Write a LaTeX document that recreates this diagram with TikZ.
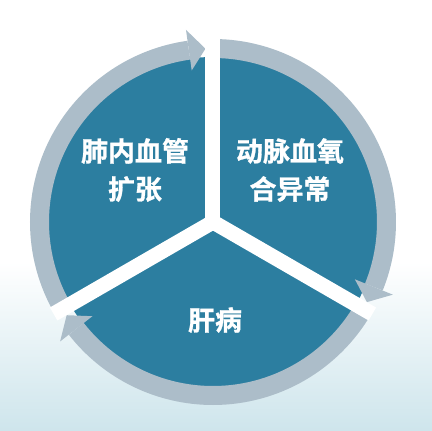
\documentclass[tikz,border=0pt]{standalone}
\usepackage{fontspec}
\setmainfont{Noto Sans CJK SC}[BoldFont={Noto Sans CJK SC Bold},BoldFeatures={FakeBold=1}]
\definecolor{discblue}{RGB}{44,126,160}
\definecolor{ringgray}{RGB}{172,189,201}
\definecolor{bgblue}{RGB}{206,229,236}

\begin{document}
\begin{tikzpicture}[x=1pt,y=1pt]

	\tikzset{sectortext/.style={text=white,align=center,font=\bfseries\fontsize{27}{38}\selectfont}}
	\tikzset{separator/.style={white,line width=15pt}}

	% background
	\useasboundingbox (-213,-209) rectangle (219,222);
	\fill[white] (-213,-209) rectangle (219,222);
	\shade[top color=white,bottom color=bgblue] (-213,-209) rectangle (219,-40);

	% disc
	\fill[discblue] (0,0) circle (165);

	% ring arrows (clockwise)
	\def\rmid{173.5}
	\foreach \a/\b/\t in {210/98/92.5, 90/-22/-27.5, -30/-142/-147.5} {
		\draw[ringgray,line width=19pt] (\a:\rmid) arc[start angle=\a,end angle=\b,radius=\rmid];
		\fill[ringgray] (\b:153) -- (\t:\rmid) -- (\b:194) -- cycle;
	}

	% white cuts
	\foreach \s in {90,210,330} {
		\draw[separator] (0,0) -- (\s:184);
	}
	\fill[white] (0,0) circle (7.5);

	\node[sectortext] (lung) at (-78,52) {肺内血管\\扩张};
	\node[sectortext] (oxygen) at (77,52) {动脉血氧\\合异常};
	\node[sectortext] (liver) at (2,-98) {肝病};

\end{tikzpicture}
\end{document}
